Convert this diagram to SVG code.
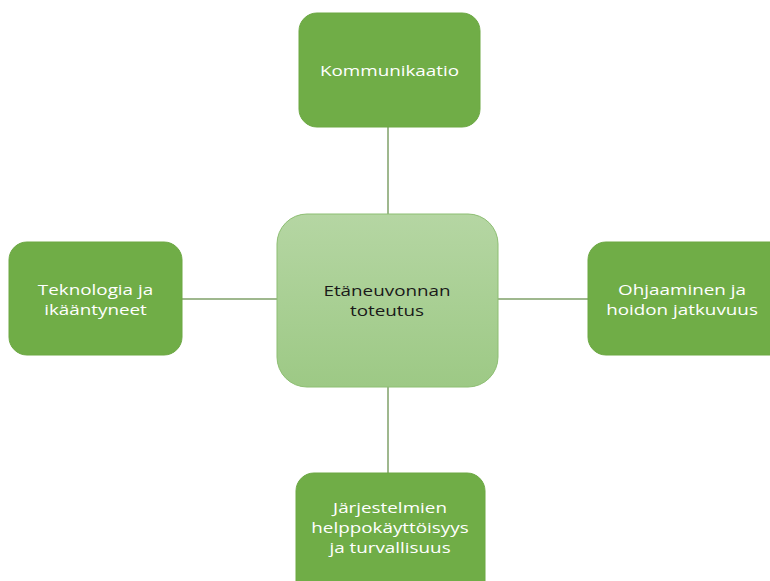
<svg xmlns="http://www.w3.org/2000/svg" width="770" height="581" viewBox="0 0 770 581">
<defs>
<linearGradient id="cg" x1="0" y1="0" x2="0" y2="1">
<stop offset="0" stop-color="#B5D6A3"/>
<stop offset="1" stop-color="#9DC985"/>
</linearGradient>
</defs>
<style>
.box{fill:#70AD47;stroke:#6CA843;stroke-width:1}
.t{font-family:"Open Sans","Noto Sans",sans-serif;font-size:14.5px;fill:#FFFFFF;text-anchor:middle}
.tc{font-family:"Open Sans","Noto Sans",sans-serif;font-size:14.5px;fill:#1A1A1A;text-anchor:middle}
.ln{stroke:#7FA069;stroke-width:1.5;fill:none}
</style>
<rect width="770" height="581" fill="#FFFFFF"/>
<g id="connectors">
<line class="ln" x1="388" y1="127" x2="388" y2="214"/>
<line class="ln" x1="388" y1="387" x2="388" y2="473"/>
<line class="ln" x1="182" y1="299" x2="277" y2="299"/>
<line class="ln" x1="498" y1="299" x2="588" y2="299"/>
</g>
<g id="center">
<rect x="277" y="214" width="221" height="173" rx="30" fill="url(#cg)" stroke="#8DBE72" stroke-width="1"/>
<text class="tc" transform="translate(387,295.5) scale(1.3,1)">Etäneuvonnan</text>
<text class="tc" transform="translate(387,315.5) scale(1.3,1)">toteutus</text>
</g>
<g id="top">
<rect class="box" x="299" y="13" width="181" height="114" rx="18"/>
<text class="t" transform="translate(389.5,76) scale(1.3,1)">Kommunikaatio</text>
</g>
<g id="left">
<rect class="box" x="9" y="242" width="173" height="113" rx="18"/>
<text class="t" transform="translate(95.5,294.5) scale(1.3,1)">Teknologia ja</text>
<text class="t" transform="translate(95.5,314.5) scale(1.3,1)">ikääntyneet</text>
</g>
<g id="right">
<rect class="box" x="588" y="242" width="200" height="113" rx="18"/>
<text class="t" transform="translate(682,294.5) scale(1.3,1)">Ohjaaminen ja</text>
<text class="t" transform="translate(682,314.5) scale(1.3,1)">hoidon jatkuvuus</text>
</g>
<g id="bottom">
<rect class="box" x="296" y="473" width="189" height="130" rx="18"/>
<text class="t" transform="translate(390,513) scale(1.3,1)">Järjestelmien</text>
<text class="t" transform="translate(390,533) scale(1.3,1)">helppokäyttöisyys</text>
<text class="t" transform="translate(390,553) scale(1.3,1)">ja turvallisuus</text>
</g>
</svg>
